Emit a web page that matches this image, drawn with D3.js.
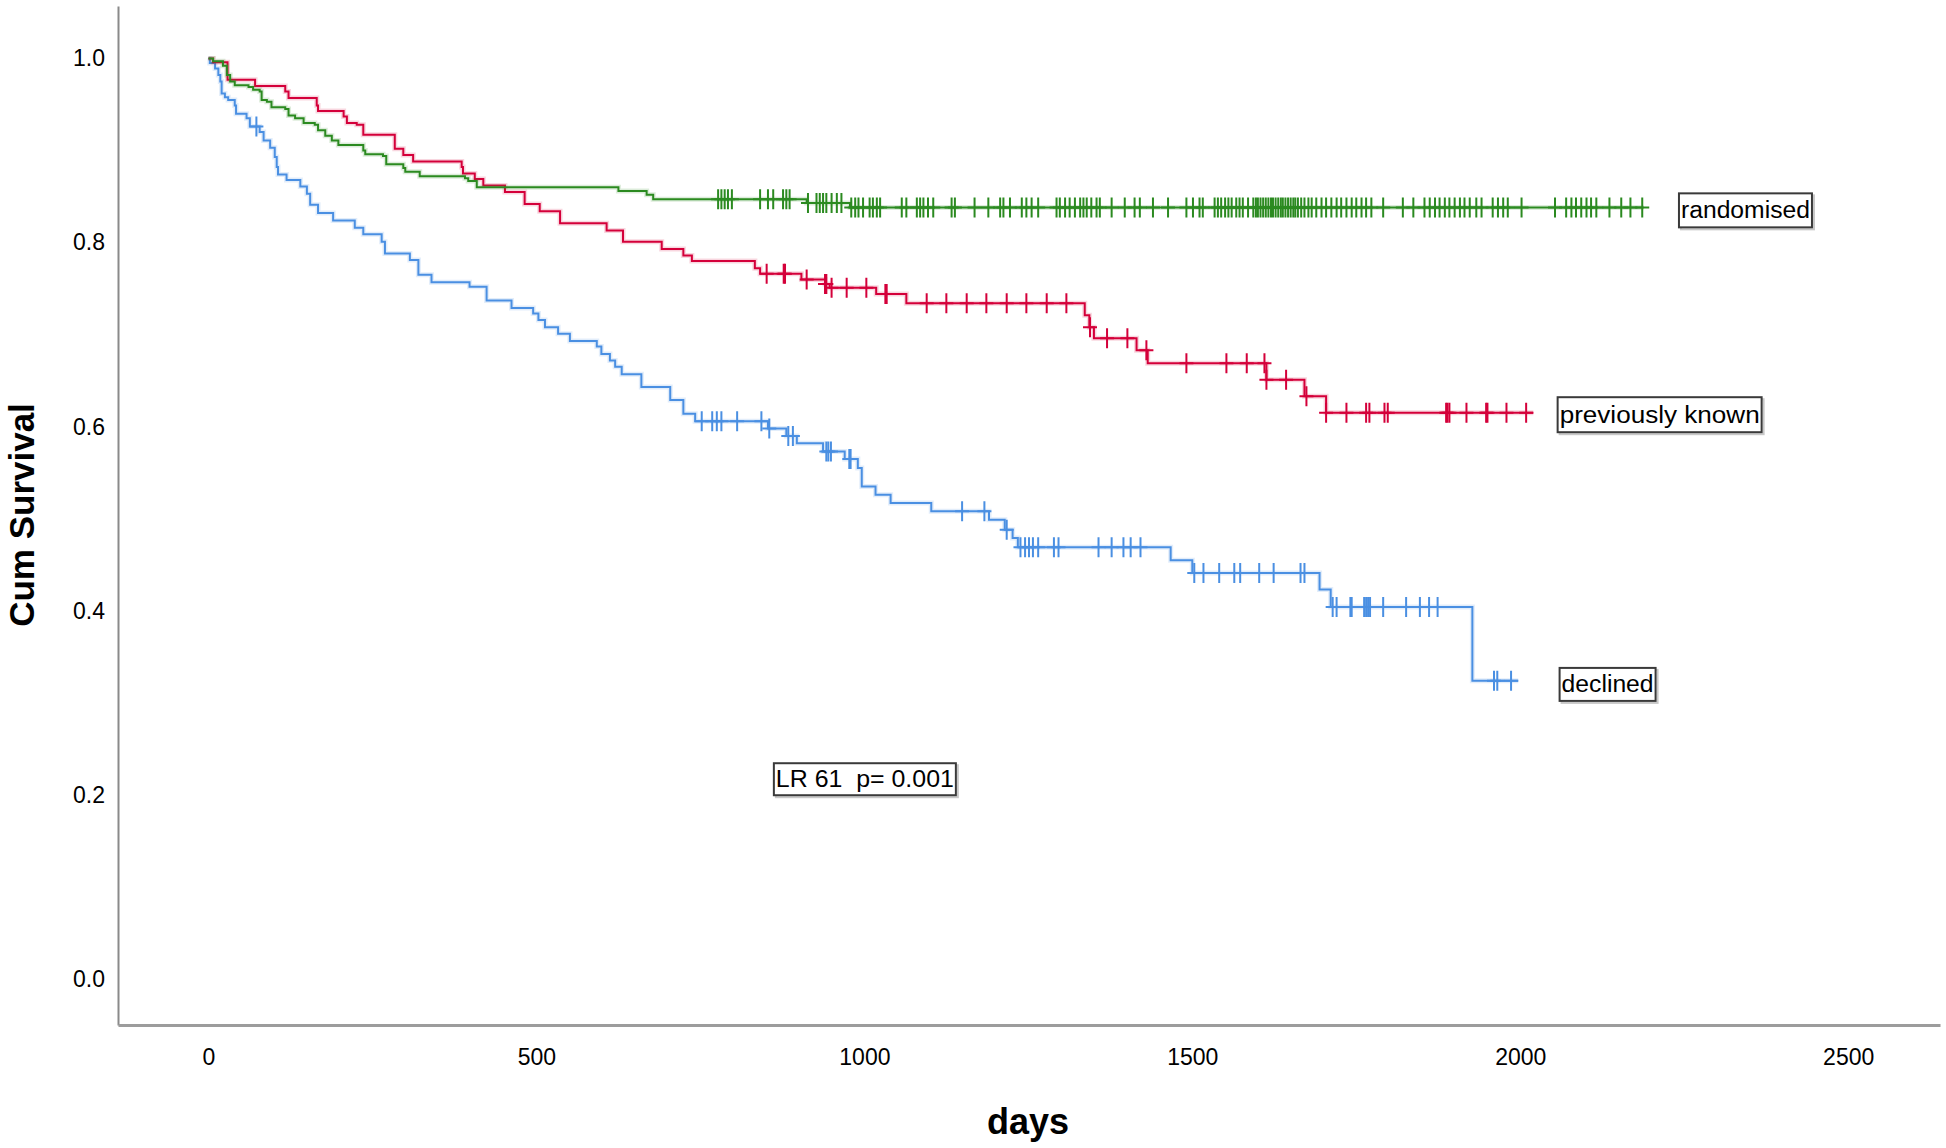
<!DOCTYPE html>
<meta charset="utf-8">
<style>

  body { margin: 0; background: #fff; }

  svg text {
    font-family: "Liberation Sans", Arial, sans-serif;
    fill: #000;
  }

  .curve { fill: none; stroke-width: 2; }
  .halo { fill: none; stroke-width: 5; stroke-opacity: 0.16; }
  .cens { fill: none; stroke-width: 2; }

  .tag rect { fill: #fff; stroke: #3a3a3a; stroke-width: 2; }
  .tag .shadow { fill: none; stroke: #c8c8c8; stroke-width: 2; }
  .tag text { white-space: pre; }

</style>
<svg width="1946" height="1148"></svg>
<script src="https://d3js.org/d3.v7.min.js"></script>
<script>

    // axis ticks
    var xTicks = [0, 500, 1000, 1500, 2000, 2500];
    var yTicks = [0, 0.2, 0.4, 0.6, 0.8, 1.0];

    // randomised : event days, survival after each step, censored days
    var randT = [7, 22, 28, 33, 40, 61, 68, 78, 81, 89, 96, 117, 122, 132, 145, 162, 167, 178, 188, 198,
                 236, 239, 266, 271, 297, 300, 322, 391, 396, 409, 625, 668, 678, 912, 978];
    var randS = [0.997, 0.992, 0.982, 0.975, 0.971, 0.969, 0.966, 0.964, 0.955, 0.953, 0.947, 0.945, 0.938,
                 0.935, 0.930, 0.928, 0.922, 0.916, 0.911, 0.906, 0.900, 0.896, 0.894, 0.885, 0.881, 0.877,
                 0.872, 0.870, 0.867, 0.860, 0.856, 0.852, 0.847, 0.843, 0.838];
    var randCens = [777, 782, 787, 792, 798, 841, 853, 861, 876, 881, 886, 914, 927, 932, 937, 942, 950, 958,
                 965, 980, 986, 991, 998, 1008, 1013, 1019, 1024, 1057, 1064, 1080, 1085, 1090, 1097, 1105,
                 1133, 1138, 1168, 1189, 1207, 1212, 1222, 1240, 1247, 1255, 1265, 1293, 1298, 1306, 1313,
                 1321, 1329, 1334, 1339, 1346, 1354, 1359, 1377, 1397, 1412, 1420, 1440, 1463, 1491, 1501,
                 1511, 1516, 1534, 1539, 1544, 1550, 1555, 1560, 1567, 1572, 1577, 1585, 1593, 1597, 1600,
                 1604, 1608, 1612, 1616, 1620, 1623, 1627, 1631, 1635, 1638, 1642, 1646, 1650, 1654, 1657,
                 1661, 1666, 1671, 1677, 1682, 1689, 1697, 1704, 1712, 1720, 1727, 1735, 1743, 1750, 1758,
                 1765, 1773, 1791, 1821, 1837, 1854, 1862, 1870, 1877, 1885, 1892, 1900, 1908, 1915, 1923,
                 1933, 1941, 1958, 1966, 1974, 1981, 2002, 2053, 2070, 2078, 2085, 2093, 2101, 2108, 2116,
                 2136, 2154, 2168, 2186];
    var randEnd = 2188;

    // previously known
    var prevT = [7, 29, 71, 117, 122, 165, 167, 206, 211, 226, 236, 284, 297, 312, 386, 388, 406, 419, 452,
                 482, 505, 536, 607, 632, 691, 724, 737, 833, 841, 904, 940, 947, 1018, 1064, 1336, 1343,
                 1350, 1415, 1432, 1613, 1671, 1704];
    var prevS = [0.996, 0.977, 0.970, 0.964, 0.957, 0.949, 0.943, 0.937, 0.930, 0.928, 0.917, 0.902, 0.895,
                 0.888, 0.882, 0.875, 0.869, 0.862, 0.855, 0.842, 0.834, 0.821, 0.813, 0.801, 0.793, 0.786,
                 0.780, 0.772, 0.766, 0.760, 0.755, 0.751, 0.744, 0.734, 0.721, 0.708, 0.696, 0.683, 0.669,
                 0.651, 0.633, 0.615];
    var prevCens = [851, 877, 879, 912, 940, 942, 950, 973, 1003, 1032, 1034, 1095, 1125, 1156, 1186, 1217,
                 1247, 1278, 1308, 1344, 1370, 1401, 1430, 1491, 1552, 1583, 1610, 1613, 1643, 1674, 1704,
                 1735, 1765, 1770, 1793, 1798, 1887, 1889, 1892, 1918, 1948, 1950, 1979, 2009];
    var prevEnd = 2020;

    // declined
    var declT = [2, 10, 15, 18, 20, 25, 30, 40, 42, 58, 63, 78, 84, 94, 101, 104, 106, 119, 140, 150, 155,
                 167, 190, 223, 236, 264, 269, 307, 320, 340, 398, 424, 462, 495, 503, 513, 533, 551, 592,
                 599, 612, 620, 630, 660, 704, 724, 742, 853, 881, 897, 937, 970, 990, 996, 1017, 1040,
                 1102, 1190, 1214, 1226, 1234, 1467, 1500, 1694, 1711, 1927];
    var declS = [0.995, 0.989, 0.982, 0.975, 0.962, 0.958, 0.955, 0.949, 0.940, 0.935, 0.926, 0.920, 0.911,
                 0.903, 0.893, 0.882, 0.874, 0.868, 0.861, 0.853, 0.841, 0.832, 0.824, 0.816, 0.809, 0.801,
                 0.788, 0.781, 0.765, 0.757, 0.752, 0.737, 0.729, 0.723, 0.716, 0.708, 0.701, 0.693, 0.687,
                 0.679, 0.672, 0.665, 0.657, 0.643, 0.629, 0.614, 0.606, 0.598, 0.590, 0.582, 0.573, 0.565,
                 0.555, 0.535, 0.526, 0.517, 0.508, 0.499, 0.488, 0.479, 0.469, 0.455, 0.441, 0.423, 0.404,
                 0.324];
    var declCens = [73, 752, 768, 775, 782, 806, 843, 855, 884, 891, 942, 945, 949, 977, 979, 1149, 1183,
                 1217, 1238, 1245, 1251, 1257, 1265, 1289, 1296, 1357, 1377, 1395, 1406, 1421, 1503, 1517,
                 1541, 1564, 1573, 1602, 1624, 1665, 1671, 1714, 1720, 1741, 1743, 1762, 1765, 1768, 1771,
                 1791, 1826, 1847, 1861, 1874, 1960, 1965, 1986];
    var declEnd = 1997;

    var groupNames = ["randomised", "previously known", "declined"];
    var groupColours = ["#2b8a20", "#d4003a", "#4a8fe2"];
    var statText = "LR 61  p= 0.001";

    var svg = d3.select("svg");

    var x = d3.scaleLinear().domain([-138, 2640]).range([118, 1940]);
    var y = d3.scaleLinear().domain([-0.05, 1.057]).range([1025, 6]);

    // axes
    var yAxis = svg.append("g")
        .attr("transform", "translate(118,0)")
        .call(d3.axisLeft(y).tickValues(yTicks).tickSize(0).tickPadding(13)
            .tickFormat(d3.format(".1f")));
    yAxis.select(".domain").attr("stroke", "#8a8a8a").attr("stroke-width", 2);
    yAxis.selectAll("text").style("font-size", "23px");

    var xAxis = svg.append("g")
        .attr("transform", "translate(0,1025)")
        .call(d3.axisBottom(x).tickValues(xTicks).tickSize(0).tickPadding(24)
            .tickFormat(d3.format("d")));
    xAxis.select(".domain").attr("stroke", "#9c9c9c").attr("stroke-width", 3);
    xAxis.selectAll("text").style("font-size", "23px");

    svg.append("text")
        .attr("transform", "translate(34,515) rotate(-90)")
        .attr("text-anchor", "middle")
        .style("font-size", "35px")
        .style("font-weight", "bold")
        .text("Cum Survival");

    svg.append("text")
        .attr("x", 1028)
        .attr("y", 1134)
        .attr("text-anchor", "middle")
        .style("font-size", "36px")
        .style("font-weight", "bold")
        .text("days");

    // survival curves
    var series = [
        {T: randT, S: randS, cens: randCens, end: randEnd},
        {T: prevT, S: prevS, cens: prevCens, end: prevEnd},
        {T: declT, S: declS, cens: declCens, end: declEnd}
    ];

    function levelAt(s, t) {
        var v = 1;
        for (var i = 0; i < s.T.length; i++) {
            if (s.T[i] <= t) v = s.S[i];
        }
        return v;
    }

    var line = d3.line()
        .x(function(d) { return x(d[0]); })
        .y(function(d) { return y(d[1]); })
        .curve(d3.curveStepAfter);

    var crossPath = "M-7,0H7M0,-10V10";

    // draw in reverse so randomised sits on top
    for (var g = series.length - 1; g >= 0; g--) {
        var s = series[g];
        var pts = [[0, 1]];
        for (var i = 0; i < s.T.length; i++) pts.push([s.T[i], s.S[i]]);
        pts.push([s.end, s.S[s.S.length - 1]]);

        svg.append("path")
            .attr("class", "halo")
            .attr("stroke", groupColours[g])
            .attr("d", line(pts));

        svg.append("path")
            .attr("class", "curve")
            .attr("stroke", groupColours[g])
            .attr("d", line(pts));

        svg.append("g")
            .selectAll("path")
            .data(s.cens)
            .enter().append("path")
            .attr("class", "cens")
            .attr("stroke", groupColours[g])
            .attr("transform", function(d) { return "translate(" + x(d) + "," + y(levelAt(s, d)) + ")"; })
            .attr("d", crossPath);
    }

    // labels at curve ends
    var tagLayout = [
        {text: groupNames[0], day: 2242, surv: 0.835, w: 133, h: 34},
        {text: groupNames[1], day: 2057, surv: 0.613, w: 204, h: 35},
        {text: groupNames[2], day: 2060, surv: 0.320, w: 96, h: 33},
        {text: statText, day: 862, surv: 0.217, w: 182, h: 32}
    ];

    var tags = svg.selectAll(".tag")
        .data(tagLayout)
        .enter().append("g")
        .attr("class", "tag")
        .attr("transform", function(d) { return "translate(" + x(d.day) + "," + y(d.surv) + ")"; });

    tags.append("rect")
        .attr("class", "shadow")
        .attr("x", 2).attr("y", function(d) { return -d.h / 2 + 2; })
        .attr("width", function(d) { return d.w; })
        .attr("height", function(d) { return d.h; });

    tags.append("rect")
        .attr("x", 0).attr("y", function(d) { return -d.h / 2; })
        .attr("width", function(d) { return d.w; })
        .attr("height", function(d) { return d.h; });

    tags.append("text")
        .attr("x", 2)
        .attr("y", 8)
        .attr("textLength", function(d) { return d.w - 4; })
        .attr("lengthAdjust", "spacingAndGlyphs")
        .style("font-size", "23px")
        .text(function(d) { return d.text; });

</script>
